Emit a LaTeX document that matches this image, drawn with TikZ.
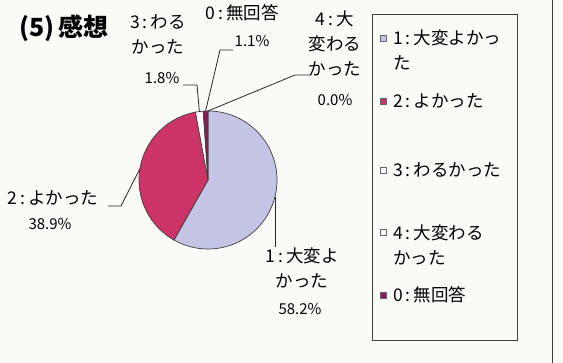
\documentclass[tikz,border=0pt]{standalone}
\usepackage{fontspec}
\setmainfont{Noto Sans CJK JP}
\definecolor{bgcol}{HTML}{FAFAF7}
\definecolor{lav}{HTML}{C4C4E4}
\definecolor{rosered}{HTML}{CC3366}
\definecolor{maroon}{HTML}{802050}
\newcommand\mycln{\hspace{3pt}:\hspace{3pt}}
\begin{document}
\begin{tikzpicture}[x=1pt,y=-1pt,
  lbl/.style={inner sep=0pt, align=center, font=\fontsize{17.5}{25}\selectfont},
  pct/.style={inner sep=0pt, font=\fontsize{15}{15}\selectfont},
  leader/.style={draw=black!85, line width=0.8pt},
  slice/.style={draw=black!75, line width=0.7pt},
  legmark/.style={draw=black!60, line width=0.5pt, minimum size=6pt, inner sep=0pt},
  legtext/.style={inner sep=0pt, anchor=west, align=left, font=\fontsize{17.5}{25}\selectfont}
]
\fill[bgcol] (0,0) rectangle (563,363);
\useasboundingbox (0,0) rectangle (563,363);
% outer frame edge
\coordinate (ft) at (552,0);
\coordinate (fb) at (552,363);
\draw[black!75, line width=0.8pt] (ft) -- (fb);
% pie
\coordinate (c) at (208,180);
\def\R{69}
\filldraw[slice, fill=lav] (c) -- ([shift={(-90:\R)}]c) arc[start angle=-90, end angle=119.52, radius=\R] -- cycle;
\filldraw[slice, fill=rosered] (c) -- ([shift={(119.52:\R)}]c) arc[start angle=119.52, end angle=259.56, radius=\R] -- cycle;
\filldraw[slice, fill=white] (c) -- ([shift={(259.56:\R)}]c) arc[start angle=259.56, end angle=266.04, radius=\R] -- cycle;
\filldraw[slice, fill=maroon] (c) -- ([shift={(266.04:\R)}]c) arc[start angle=266.04, end angle=270, radius=\R] -- cycle;
% edge points for leaders
\coordinate (e1) at (275,197);
\coordinate (e2) at ([shift={(189.5:\R)}]c);
\coordinate (e3) at ([shift={(262.8:\R)}]c);
\coordinate (e0) at ([shift={(268:\R)}]c);
\coordinate (e4) at ([shift={(270:\R)}]c);
% title
\node (title) [inner sep=0pt, font=\bfseries\fontsize{25}{25}\selectfont] at (64,28) {(5)\,感想};
% labels
\node (l3) [lbl] at (158,34) {3\mycln わる\\かった};
\node (p3) [pct] at (162,78) {1.8\%};
\node (l0) [lbl] at (242,13) {0\mycln 無回答};
\node (p0) [pct] at (252,41) {1.1\%};
\node (l4) [lbl] at (335,43) {4\mycln 大\\変わる\\かった};
\node (p4) [pct] at (335,100) {0.0\%};
\node (l2) [lbl] at (53,198) {2\mycln よかった};
\node (p2) [pct] at (50,224) {38.9\%};
\node (l1) [lbl] at (302,268) {1\mycln 大変よ\\かった};
\node (p1) [pct] at (300,309) {58.2\%};
% leader lines
\coordinate (k3a) at (183,85); \coordinate (k3b) at (197,85);
\draw[leader] (k3a) -- (k3b) -- (e3);
\coordinate (k0a) at (233,50); \coordinate (k0b) at (220,50);
\draw[leader] (k0a) -- (k0b) -- (e0);
\coordinate (k4a) at (310,75); \coordinate (k4b) at (295,75);
\draw[leader] (k4a) -- (k4b) -- (e4);
\coordinate (k2a) at (108,206); \coordinate (k2b) at (121,206);
\draw[leader] (k2a) -- (k2b) -- (e2);
\coordinate (k1) at (275,247);
\draw[leader] (e1) -- (k1);
% legend
\node (leg) [draw=black!75, line width=0.8pt, minimum width=145pt, minimum height=326pt, inner sep=0pt, anchor=north west] at (372,14) {};
\node (m1) [legmark, fill=lav] at (383,38) {};
\node (t1) [legtext] at (393,49.5) {1\mycln 大変よかっ\\た};
\node (m2) [legmark, fill=rosered] at (383,101) {};
\node (t2) [legtext] at (393,101) {2\mycln よかった};
\node (m3) [legmark, fill=white] at (383,170) {};
\node (t3) [legtext] at (393,170) {3\mycln わるかった};
\node (m4) [legmark, fill=white] at (383,232) {};
\node (t4) [legtext] at (393,244.5) {4\mycln 大変わる\\かった};
\node (m0) [legmark, fill=maroon] at (383,295) {};
\node (t0) [legtext] at (393,295) {0\mycln 無回答};
\end{tikzpicture}
\end{document}
